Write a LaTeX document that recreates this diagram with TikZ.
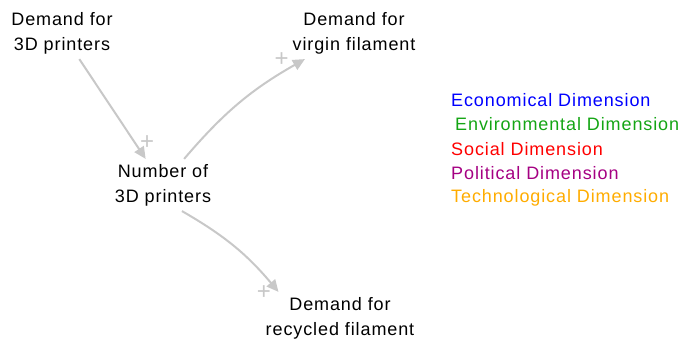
\documentclass[tikz,border=0pt]{standalone}
\usepackage{fontspec}
\setmainfont{Liberation Sans}[LetterSpace=5]
\usetikzlibrary{arrows.meta}
\definecolor{econ}{RGB}{0,0,255}
\definecolor{envi}{RGB}{20,165,20}
\definecolor{soci}{RGB}{255,0,0}
\definecolor{poli}{RGB}{165,0,130}
\definecolor{tech}{RGB}{255,172,0}
\definecolor{linkgray}{RGB}{200,200,200}
\tikzset{
  var/.style={align=center, inner sep=5pt, font=\fontsize{18}{25}\selectfont},
  legend/.style={anchor=west, inner sep=0pt, font=\fontsize{18}{25}\selectfont},
  link/.style={draw=linkgray, line width=2pt, -{Triangle[length=12pt, width=11pt]}},
  pol/.style={text=linkgray, inner sep=0pt, font=\fontsize{24}{24}\selectfont}
}
\begin{document}
\begin{tikzpicture}[x=1pt, y=1pt]
    \useasboundingbox (0,0) rectangle (679,-345);

    % Variabili
    \node[var] (dp) at (62,-33) {Demand for\\3D printers};
    \node[var] (np) at (163,-185) {Number of\\3D printers};
    \node[var] (vf) at (354,-33) {Demand for\\virgin filament};
    \node[var] (rf) at (340,-318) {Demand for\\recycled filament};

    % Collegamenti causali
    \draw[link] (dp) -- (np) node[pol, pos=0.84, right=4pt] (p1) {+};
    \draw[link] (np.51) to[bend left=10] node[pol, pos=0.9, above left=0pt] (p2) {+} (vf.208);
    \draw[link] (np.-54) to[bend left=10] node[pol, pos=0.93, below left=0pt] (p3) {+} (rf.157);

    % Legenda
    \node[legend, text=econ] (l1) at (451,-100) {Economical Dimension};
    \node[legend, text=envi] (l2) at (455,-124) {Environmental Dimension};
    \node[legend, text=soci] (l3) at (451,-149) {Social Dimension};
    \node[legend, text=poli] (l4) at (451,-173) {Political Dimension};
    \node[legend, text=tech] (l5) at (451,-198) {Technological Dimension};
\end{tikzpicture}
\end{document}
